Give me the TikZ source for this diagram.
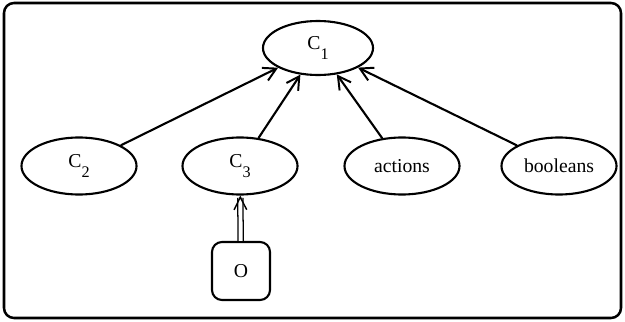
\documentclass[tikz,border=0pt]{standalone}
\usepackage{fontspec}
\setmainfont{Liberation Serif}
\usetikzlibrary{shapes.geometric,arrows.meta}
\newcommand{\cname}[1]{C\raisebox{-7pt}{\fontsize{11.5}{12}\selectfont #1}}
\begin{document}
\begin{tikzpicture}[
        x=0.025cm, y=-0.025cm,
        class/.style={ellipse, draw, line width=1.5pt, minimum width=2.875cm, minimum height=1.425cm, inner sep=0pt, font=\fontsize{14}{16}\selectfont},
        object/.style={rectangle, draw, rounded corners=0.25cm, line width=1.5pt, minimum width=1.45cm, minimum height=1.45cm, font=\fontsize{14}{16}\selectfont},
        arrow/.style={-{Straight Barb[length=9pt,width=10pt,line width=1.4pt]}, line width=1.5pt},
        inst/.style={double, double distance=2.8pt, line width=0.9pt, -{Straight Barb[length=9pt,width=9pt,line width=1pt]}}
    ]
        % Frame
        \useasboundingbox (0,0) rectangle (625,322);
        \draw[line width=1.8pt, rounded corners=0.25cm] (4,3) rectangle (621,318);

        % Top class
        \node[class, minimum width=2.75cm, minimum height=1.35cm] (c1) at (318,48) {\cname{1}};

        % Second row
        \node[class] (c2) at (79,166) {\cname{2}};
        \node[class] (c3) at (240,166) {\cname{3}};
        \node[class] (actions) at (402,166) {actions};
        \node[class] (booleans) at (559,166) {booleans};

        % Object
        \node[object] (o) at (241,271) {O};

        % Connect
        \draw[arrow] (c2) -- (c1);
        \draw[arrow] (c3) -- (c1);
        \draw[arrow] (actions) -- (c1);
        \draw[arrow] (booleans) -- (c1);
        \draw[inst] (o) -- (c3);
    \end{tikzpicture}
\end{document}
